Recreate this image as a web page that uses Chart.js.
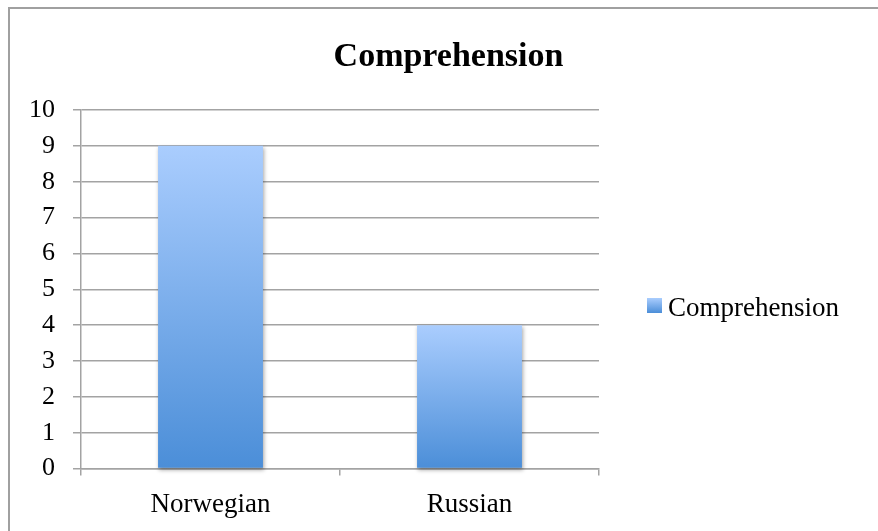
<!DOCTYPE html>
<html>
<head>
<meta charset="utf-8">
<script src="https://cdn.jsdelivr.net/npm/chart.js@4/dist/chart.umd.min.js"></script>
<style>
  html, body { margin: 0; padding: 0; background: #fff; }
  #wrap { position: absolute; left: 0; top: 0; width: 878px; height: 531px; }
</style>
</head>
<body>
<div id="wrap"><canvas id="c" width="878" height="531"></canvas></div>
<script>
const chartTitle = 'Comprehension';
const categories = ['Norwegian', 'Russian'];
const seriesName = 'Comprehension';
const comprehension = [9, 4];
const yMin = 0;
const yMax = 10;
const yStep = 1;

const FONT = "'Liberation Serif', 'Times New Roman', serif";
const GRID = '#a3a3a3';
const TOP_C = '#aacdfe';
const BOT_C = '#4b8ed8';

function barGradient(ctx) {
  const chart = ctx.chart;
  const ys = chart.scales.y;
  if (!ys || ctx.type !== 'data') return BOT_C;
  const v = ctx.parsed ? ctx.parsed.y : ctx.raw;
  const top = ys.getPixelForValue(v);
  const base = ys.getPixelForValue(0);
  if (!isFinite(top) || !isFinite(base) || top === base) return BOT_C;
  const g = chart.ctx.createLinearGradient(0, top, 0, base);
  g.addColorStop(0, TOP_C);
  g.addColorStop(1, BOT_C);
  return g;
}

const decor = {
  id: 'decor',
  beforeDraw(chart) {
    const c = chart.ctx;
    c.save();
    c.fillStyle = '#fff';
    c.fillRect(0, 0, chart.width, chart.height);
    c.restore();
  },
  beforeDatasetsDraw(chart) {
    const c = chart.ctx;
    c.save();
    c.shadowColor = 'rgba(0,0,0,0.35)';
    c.shadowBlur = 4;
    c.shadowOffsetX = 1;
    c.shadowOffsetY = 2;
  },
  afterDatasetsDraw(chart) {
    chart.ctx.restore();
  },
  afterDraw(chart) {
    const c = chart.ctx;
    c.save();
    // frame
    c.strokeStyle = '#a0a0a0';
    c.lineWidth = 2;
    c.beginPath();
    c.moveTo(9, chart.height);
    c.lineTo(9, 8);
    c.lineTo(chart.width, 8);
    c.stroke();
    // title
    c.fillStyle = '#000';
    c.font = "bold 34px " + FONT;
    c.textAlign = 'center';
    c.textBaseline = 'alphabetic';
    c.fillText(chartTitle, 448.5, 66);
    // legend
    const g = c.createLinearGradient(0, 298, 0, 313);
    g.addColorStop(0, TOP_C);
    g.addColorStop(1, BOT_C);
    c.fillStyle = g;
    c.fillRect(647, 298, 15, 15);
    c.fillStyle = '#000';
    c.font = "27px " + FONT;
    c.textAlign = 'left';
    c.fillText(chart.data.datasets[0].label, 668, 316);
    c.restore();
  }
};

new Chart(document.getElementById('c'), {
  type: 'bar',
  data: {
    labels: categories,
    datasets: [{
      label: seriesName,
      data: comprehension,
      backgroundColor: barGradient,
      borderWidth: 0,
      barPercentage: 0.405,
      categoryPercentage: 1,
      clip: false
    }]
  },
  options: {
    responsive: false,
    animation: false,
    devicePixelRatio: 1,
    layout: { padding: { left: 11, right: 279, top: 110, bottom: -3 } },
    plugins: {
      legend: { display: false },
      title: { display: false },
      tooltip: { enabled: false }
    },
    scales: {
      x: {
        grid: { display: true, drawOnChartArea: false, offset: true, color: GRID, lineWidth: 1.5, tickLength: 7 },
        border: { display: true, color: GRID, width: 1.5 },
        ticks: { color: '#000', font: { family: FONT, size: 27 }, padding: 13 }
      },
      y: {
        min: yMin,
        max: yMax,
        grid: { color: GRID, lineWidth: 1.5, tickLength: 8 },
        border: { display: true, color: GRID, width: 1.5 },
        ticks: { stepSize: yStep, color: '#000', font: { family: FONT, size: 26 }, padding: 18 }
      }
    }
  },
  plugins: [decor]
});
</script>
</body>
</html>
